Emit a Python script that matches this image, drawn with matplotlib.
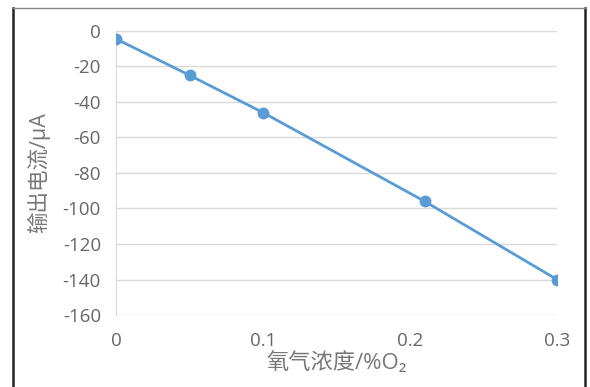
import matplotlib.pyplot as plt
from matplotlib.lines import Line2D

plt.rcParams['font.family'] = ['Open Sans', 'Noto Sans CJK SC', 'DejaVu Sans']
plt.rcParams['axes.unicode_minus'] = False

# 氧气浓度 vs 输出电流
o2_conc = [0.0, 0.05, 0.1, 0.21, 0.3]
current_ua = [-4.5, -25, -46, -96, -140]
x_ticks = [0, 0.1, 0.2, 0.3]
x_tick_labels = ['0', '0.1', '0.2', '0.3']
y_ticks = [0, -20, -40, -60, -80, -100, -120, -140, -160]

fig = plt.figure(figsize=(5.9, 3.87), dpi=100)
ax = fig.add_axes([0.197, 0.186, 0.747, 0.734])

ax.plot(o2_conc, current_ua, color='#5B9BD5', linewidth=2,
        marker='o', markersize=7.5, markerfacecolor='#5B9BD5',
        markeredgecolor='#5B9BD5', zorder=3)

ax.set_xlim(0, 0.3)
ax.set_ylim(-160, 0)
ax.set_xticks(x_ticks)
ax.set_xticklabels(x_tick_labels)
ax.set_yticks(y_ticks)
ax.yaxis.grid(True, color='#d9d9d9', linewidth=1)
ax.set_axisbelow(True)

for side in ['top', 'right', 'bottom']:
    ax.spines[side].set_visible(False)
ax.spines['left'].set_color('#d9d9d9')
ax.tick_params(axis='both', length=0, colors='#666666', labelsize=13.5)
ax.tick_params(axis='x', pad=12)
ax.tick_params(axis='y', pad=11)

ax.set_xlabel('氧气浓度/%O₂', fontsize=16, color='#777777', labelpad=2)
ax.set_ylabel('输出电流/μA', fontsize=15.5, color='#777777', labelpad=9)

# outer border around the chart
fig.add_artist(Line2D([0.022, 0.022], [0.0, 0.98], transform=fig.transFigure,
                      color='#222222', linewidth=1.8))
fig.add_artist(Line2D([0.992, 0.992], [0.0, 0.98], transform=fig.transFigure,
                      color='#222222', linewidth=1.8))
fig.add_artist(Line2D([0.022, 0.992], [0.98, 0.98], transform=fig.transFigure,
                      color='#888888', linewidth=1))

fig.savefig('out.png', dpi=100)
